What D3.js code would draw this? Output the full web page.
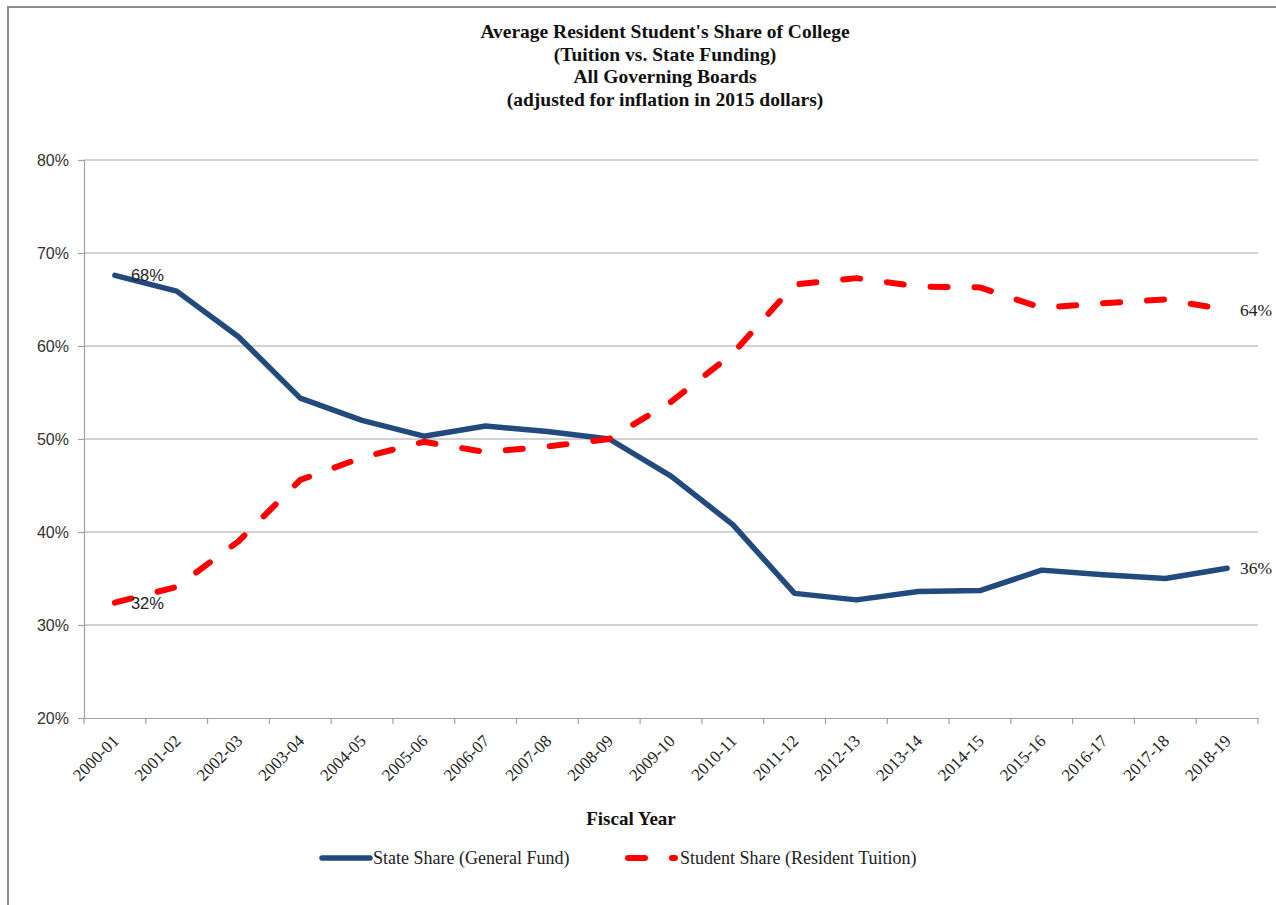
<!DOCTYPE html>
<html>
<head>
<meta charset="utf-8">
<script src="https://cdn.jsdelivr.net/npm/d3@7"></script>
<style>
  html, body { margin: 0; padding: 0; background: #fff; }
  svg { display: block; }
</style>
</head>
<body>
<svg id="chart" width="1276" height="905"></svg>
<script>
const categories = ["2000-01","2001-02","2002-03","2003-04","2004-05","2005-06","2006-07","2007-08","2008-09","2009-10","2010-11","2011-12","2012-13","2013-14","2014-15","2015-16","2016-17","2017-18","2018-19"];
const stateShare = [67.6, 65.9, 61.0, 54.4, 52.0, 50.3, 51.4, 50.8, 50.0, 46.0, 40.8, 33.4, 32.7, 33.6, 33.7, 35.9, 35.4, 35.0, 36.1];
const studentShare = [32.4, 34.1, 39.0, 45.6, 48.0, 49.7, 48.6, 49.2, 50.0, 54.0, 59.2, 66.6, 67.3, 66.4, 66.3, 64.1, 64.6, 65.0, 63.9];
const yTicks = [20, 30, 40, 50, 60, 70, 80];
const titleLines = ["Average Resident Student's Share of College", "(Tuition vs. State Funding)", "All Governing Boards", "(adjusted for inflation in 2015 dollars)"];
const seriesNames = ["State Share (General Fund)", "Student Share (Resident Tuition)"];

const svg = d3.select("#chart");
const serif = "'Liberation Serif', 'DejaVu Serif', serif";
const sans = "'Liberation Sans', Arial, sans-serif";
const blue = "#234a7c", red = "#ff0000";

// outer frame
svg.append("path").attr("d", "M8,1300 L8,7 L1300,7")
  .attr("fill", "none").attr("stroke", "#8c8c8c").attr("stroke-width", 2);

// title
const title = svg.append("text").attr("x", 665).attr("y", 38)
  .attr("text-anchor", "middle").attr("font-family", serif)
  .attr("font-weight", "bold").attr("font-size", 19.5).attr("fill", "#111");
titleLines.forEach((t, i) => title.append("tspan").attr("x", 665).attr("dy", i === 0 ? 0 : 22.5).text(t));

const x = d3.scaleBand().domain(categories).range([84, 1258]).padding(0);
const y = d3.scaleLinear().domain([20, 80]).range([718, 160]);
const cx = d => x(d) + x.bandwidth() / 2;

// gridlines
svg.append("g").selectAll("line").data(yTicks.filter(v => v > 20)).join("line")
  .attr("x1", 84).attr("x2", 1258).attr("y1", d => y(d)).attr("y2", d => y(d))
  .attr("stroke", "#a6a6a6").attr("stroke-width", 1.2);

// y axis
const yAxis = svg.append("g").attr("transform", "translate(84,0)")
  .call(d3.axisLeft(y).tickValues(yTicks).tickFormat(d => d + "%").tickSize(6).tickPadding(9));
yAxis.select(".domain").attr("stroke", "#a0a0a0").attr("stroke-width", 1.2);
yAxis.selectAll(".tick line").attr("stroke", "#a0a0a0").attr("stroke-width", 1.2);
yAxis.selectAll(".tick text").attr("font-family", sans).attr("font-size", 16).attr("fill", "#333");

// x axis
const xAxis = svg.append("g").attr("transform", "translate(0,718)")
  .call(d3.axisBottom(x).tickSize(0).tickPadding(0));
xAxis.select(".domain").attr("stroke", "#a0a0a0").attr("stroke-width", 1.2);
xAxis.selectAll(".tick text")
  .attr("font-family", serif).attr("font-size", 17).attr("fill", "#222")
  .attr("text-anchor", "end").attr("dy", 0)
  .attr("transform", "translate(5,24) rotate(-45)");
const boundaries = categories.map(c => x(c)).concat([x.range()[1]]);
svg.append("g").selectAll("line").data(boundaries).join("line")
  .attr("x1", d => d).attr("x2", d => d).attr("y1", 718).attr("y2", 724)
  .attr("stroke", "#a0a0a0").attr("stroke-width", 1.2);

// x axis title
svg.append("text").attr("x", 631).attr("y", 825).attr("text-anchor", "middle")
  .attr("font-family", serif).attr("font-weight", "bold").attr("font-size", 19)
  .attr("fill", "#111").text("Fiscal Year");

// lines
const line = d3.line().x((d, i) => cx(categories[i])).y(d => y(d));
svg.append("path").datum(stateShare).attr("d", line)
  .attr("fill", "none").attr("stroke", blue).attr("stroke-width", 5.5)
  .attr("stroke-linejoin", "round").attr("stroke-linecap", "round");
svg.append("path").datum(studentShare).attr("d", line)
  .attr("fill", "none").attr("stroke", red).attr("stroke-width", 6)
  .attr("stroke-linejoin", "round").attr("stroke-linecap", "round")
  .attr("stroke-dasharray", "17,27");

// data labels
const last = categories.length - 1;
const labels = [
  {v: stateShare[0], x: cx(categories[0]) + 16, f: sans, s: 16.5},
  {v: studentShare[0], x: cx(categories[0]) + 16, f: sans, s: 16.5},
  {v: studentShare[last], x: cx(categories[last]) + 13, f: serif, s: 17.5},
  {v: stateShare[last], x: cx(categories[last]) + 13, f: serif, s: 17.5}
];
svg.append("g").selectAll("text").data(labels).join("text")
  .attr("x", d => d.x).attr("y", d => y(d.v) + 6)
  .attr("font-family", d => d.f).attr("font-size", d => d.s).attr("fill", "#222")
  .text(d => Math.round(d.v) + "%");

// legend
const lg = svg.append("g");
lg.append("line").attr("x1", 322).attr("x2", 370).attr("y1", 858).attr("y2", 858)
  .attr("stroke", blue).attr("stroke-width", 5.5).attr("stroke-linecap", "round");
lg.append("text").attr("x", 373).attr("y", 864).attr("font-family", serif)
  .attr("font-size", 18).attr("fill", "#222").text(seriesNames[0]);
lg.append("line").attr("x1", 628).attr("x2", 675).attr("y1", 858).attr("y2", 858)
  .attr("stroke", red).attr("stroke-width", 6).attr("stroke-linecap", "round")
  .attr("stroke-dasharray", "17,27");
lg.append("text").attr("x", 680).attr("y", 864).attr("font-family", serif)
  .attr("font-size", 18).attr("fill", "#222").text(seriesNames[1]);
</script>
</body>
</html>
